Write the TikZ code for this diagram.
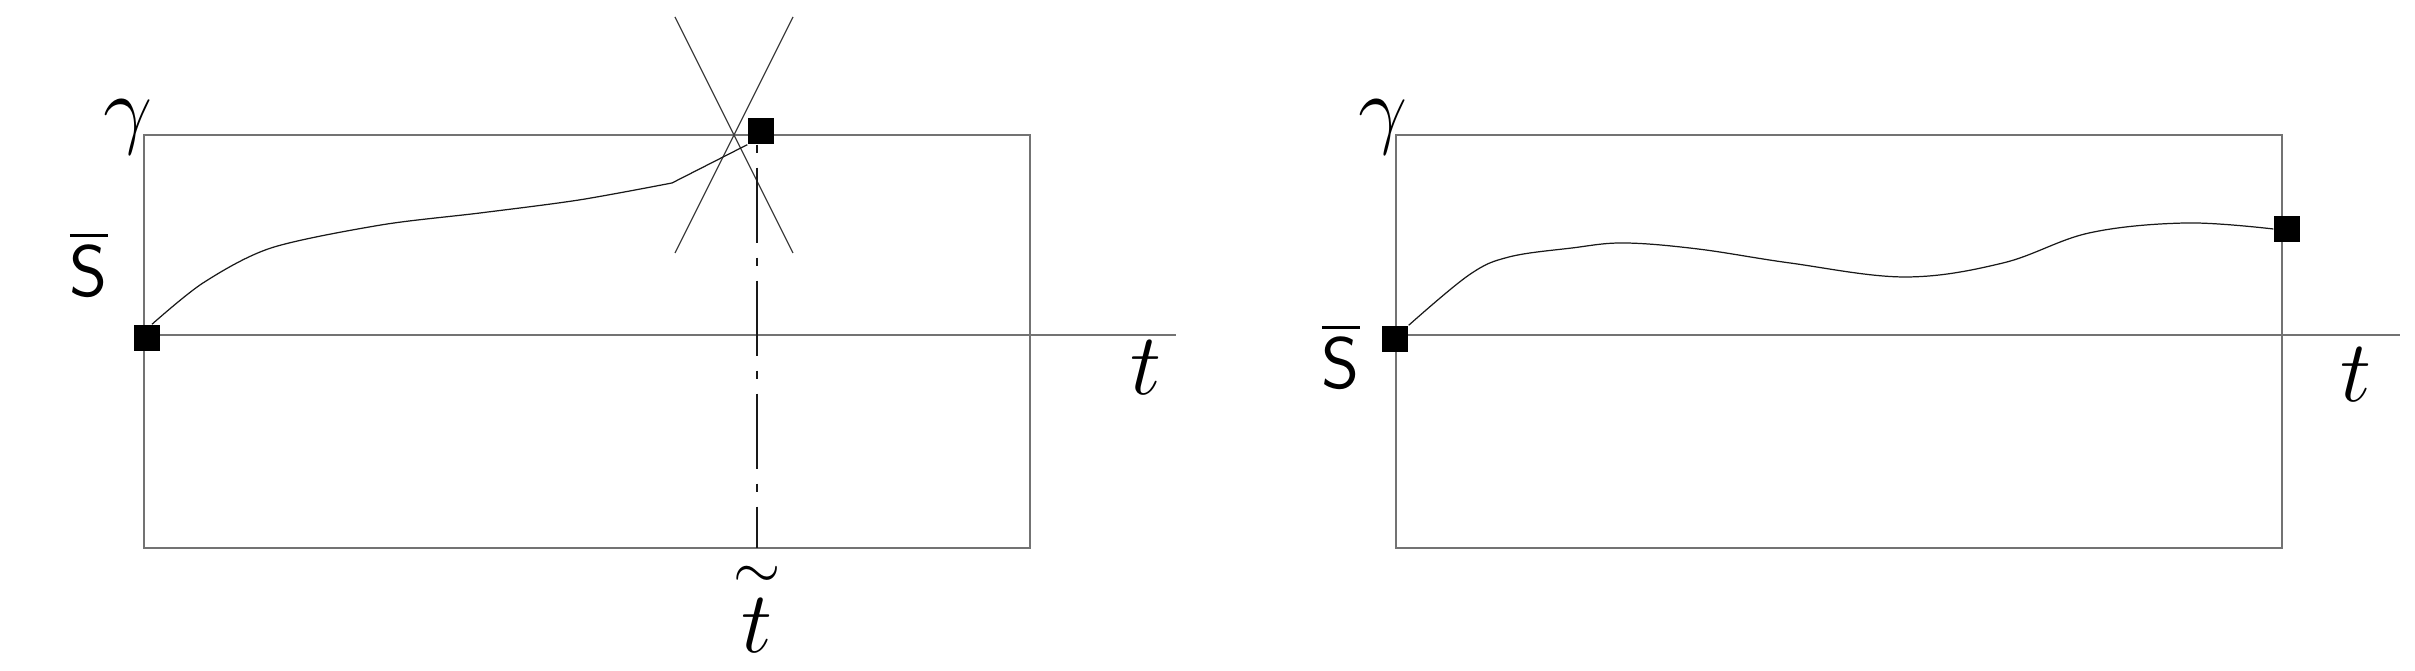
\documentclass[tikz,border=0pt]{standalone}
\usepackage{amsmath, amssymb}
\usepackage{tikz}
\usetikzlibrary{positioning, calc}

\begin{document}
\begin{tikzpicture}[
  x=1cm, y=1cm,
  every node/.style={font=\fontsize{25}{30}\selectfont},
  frame/.style={draw=black!55, line width=0.45pt},
  traj/.style={draw=black!90, line width=0.35pt},
  ray/.style={draw=black!75, line width=0.35pt},
  dashdot/.style={draw=black!90, line width=0.35pt,
    dash pattern=on 0.08cm off 0.15cm on 0.75cm off 0.15cm},
  corner/.style={fill=black, rectangle, inner sep=0pt, minimum size=0.26cm},
  sbar/.style={font=\fontsize{21}{25}\selectfont}
]
\useasboundingbox (0,0) rectangle (24.15,6.71);

% left frame
\draw[frame] (1.44,1.23) rectangle (10.30,5.36);
\coordinate (o1) at (1.44,3.36);
\coordinate (e1) at (11.76,3.36);
\draw[frame] (o1) -- (e1);

% right frame
\draw[frame] (13.96,1.23) rectangle (22.82,5.36);
\coordinate (o2) at (13.96,3.36);
\coordinate (e2) at (24.00,3.36);
\draw[frame] (o2) -- (e2);

% end points
\node[corner] (a0) at (1.47,3.33) {};
\node[corner] (a1) at (7.61,5.40) {};
\node[corner] (b0) at (13.95,3.32) {};
\node[corner] (b1) at (22.87,4.42) {};

% crossing lines at the hit
\draw[ray] (6.75,6.54) -- (7.93,4.18);
\draw[ray] (7.93,6.54) -- (6.75,4.18);

% hitting time
\coordinate (tt) at (7.57,1.23);
\draw[dashdot] (a1.south -| tt) -- (tt);

% left trajectory
\draw[traj] plot[smooth] coordinates {(a0.70) (2.03,3.88) (2.71,4.23)
  (3.81,4.46) (4.80,4.58) (5.79,4.71) (6.72,4.88)} -- (a1.south west);

% right trajectory
\draw[traj] plot[smooth, tension=0.6] coordinates {(b0.north east)
  (14.69,3.96) (15.09,4.14) (15.72,4.23) (16.24,4.28) (16.98,4.22)
  (17.90,4.08) (19.05,3.94) (20.03,4.08) (20.89,4.38) (21.86,4.48)
  (b1.west)};

% labels
\node (g1) at (1.28,5.44) {$\gamma$};
\node[sbar] (s1) at (0.89,4.07) {$\overline{\mathsf{S}}$};
\node (t1) at (11.46,3.03) {$t$};
\node[inner sep=1pt] (tl) at (7.57,0.66)
  {$\overset{\raisebox{-0.3ex}{$\scriptstyle\sim$}}{t}$};

\node (g2) at (13.83,5.44) {$\gamma$};
\node[sbar] (s2) at (13.41,3.15) {$\overline{\mathsf{S}}$};
\node (t2) at (23.56,2.96) {$t$};

\end{tikzpicture}
\end{document}
